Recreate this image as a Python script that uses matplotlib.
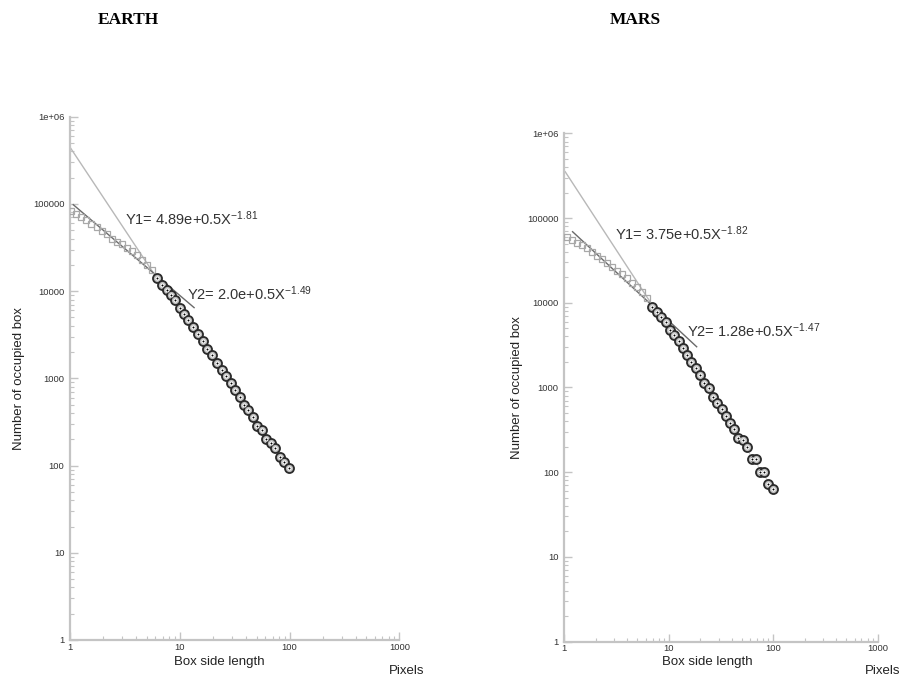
import numpy as np
import matplotlib
matplotlib.use('Agg')
import matplotlib.pyplot as plt
from matplotlib.ticker import LogLocator, FixedLocator, NullFormatter

plt.rcParams['font.family'] = ['Liberation Sans', 'DejaVu Sans']
plt.rcParams['mathtext.default'] = 'regular'

# ---- EARTH data ----
earth_sq_x = [1.02, 1.13, 1.26, 1.40, 1.55, 1.75, 1.94, 2.16, 2.40, 2.66, 2.96, 3.28,
              3.65, 4.05, 4.50, 5.00, 5.55]
earth_sq_y = [82000, 77200, 70600, 64700, 59300, 54200, 48800, 44700, 39900, 36500,
              34300, 31500, 28800, 25700, 22900, 19800, 17300]
earth_ci_x = [6.16, 6.84, 7.60, 8.32, 9.04, 10.0, 11.0, 11.9, 13.1, 14.6, 16.2, 17.8,
              19.5, 21.7, 24.1, 26.4, 29.1, 31.8, 35.3, 38.4, 41.5, 46.7, 50.1, 55.7,
              61.0, 67.3, 73.6, 81.8, 89.5, 99.3]
earth_ci_y = [14130, 11860, 10400, 9120, 7850, 6470, 5530, 4630, 3880, 3260, 2680, 2190,
              1840, 1480, 1260, 1060, 886, 744, 612, 501, 431, 356, 283, 259,
              199, 179, 157, 126, 110, 93]
earth_fit1_x = [1.0, 5.94]
earth_fit1_y = [447000, 15200]
earth_fit2_x = [1.07, 13.5]
earth_fit2_y = [98000, 6470]
earth_eq1 = 'Y1= 4.89e+0.5X$^{-1.81}$'
earth_eq2 = 'Y2= 2.0e+0.5X$^{-1.49}$'

# ---- MARS data ----
mars_sq_x = [1.05, 1.18, 1.31, 1.47, 1.64, 1.83, 2.04, 2.28, 2.55, 2.84, 3.17, 3.54,
             3.95, 4.42, 4.93, 5.50, 6.15]
mars_sq_y = [60100, 55000, 51100, 48000, 43900, 40000, 35600, 32500, 29200, 26600,
             23900, 21600, 19400, 17200, 15500, 13500, 11300]
mars_ci_x = [6.86, 7.66, 8.42, 9.34, 10.3, 11.3, 12.5, 13.8, 15.0, 16.3, 18.1, 19.9,
             21.9, 24.3, 26.5, 28.7, 32.1, 35.3, 38.5, 42.4, 46.2, 50.9, 56.4, 62.1,
             68.3, 74.6, 81.5, 89.6, 98.7]
mars_ci_y = [8970, 7830, 6840, 5970, 4760, 4160, 3560, 2900, 2420, 2010, 1680, 1400,
             1130, 997, 766, 649, 551, 459, 377, 320, 255, 239, 196, 143,
             143, 99.5, 99.5, 72.4, 63.1]
mars_fit1_x = [1.02, 6.61]
mars_fit1_y = [352000, 10300]
mars_fit2_x = [1.20, 18.5]
mars_fit2_y = [68900, 3020]
mars_eq1 = 'Y1= 3.75e+0.5X$^{-1.82}$'
mars_eq2 = 'Y2= 1.28e+0.5X$^{-1.47}$'

y_ticks = [1, 10, 100, 1000, 10000, 100000, 1000000]
y_tick_labels = ['1', '10', '100', '1000', '10000', '100000', '1e+06']
x_ticks = [1, 10, 100, 1000]
x_tick_labels = ['1', '10', '100', '1000']

AXIS_GREY = '#c4c4c4'


def draw_panel(ax, sq_x, sq_y, ci_x, ci_y, f1x, f1y, f2x, f2y, eq1, eq2, eq1_pos, eq2_pos):
    ax.set_xscale('log')
    ax.set_yscale('log')
    ax.set_xlim(1, 1000)
    ax.set_ylim(1, 1e6)

    ax.plot(f1x, f1y, color='#b8b8b8', lw=1.0, zorder=2)
    ax.plot(f2x, f2y, color='#6a6a6a', lw=1.0, zorder=2)
    ax.plot(sq_x, sq_y, ls='none', marker='s', ms=4.2, mfc='none', mec='#a8a8a8',
            mew=0.9, zorder=3)
    ax.plot(ci_x, ci_y, color='#d0d0d0', lw=0.7, zorder=3)
    ax.plot(ci_x, ci_y, ls='none', marker='o', ms=6.5, mfc='#bdbdbd', mec='#2a2a2a',
            mew=1.3, zorder=4)
    ax.plot(ci_x, ci_y, ls='none', marker='o', ms=3.0, mfc='white', mec='white',
            mew=0, zorder=5)
    ax.plot(ci_x, ci_y, ls='none', marker='o', ms=1.4, mfc='black', mec='black',
            mew=0, zorder=6)

    ax.text(eq1_pos[0], eq1_pos[1], eq1, fontsize=10.5, color='#333333')
    ax.text(eq2_pos[0], eq2_pos[1], eq2, fontsize=10.5, color='#333333')

    for s in ['top', 'right']:
        ax.spines[s].set_visible(False)
    for s in ['left', 'bottom']:
        ax.spines[s].set_color(AXIS_GREY)
        ax.spines[s].set_linewidth(1.6)

    ax.yaxis.set_major_locator(FixedLocator(y_ticks))
    ax.set_yticklabels(y_tick_labels)
    ax.xaxis.set_major_locator(FixedLocator(x_ticks))
    ax.set_xticklabels(x_tick_labels)
    ax.yaxis.set_minor_locator(LogLocator(base=10, subs=np.arange(2, 10), numticks=20))
    ax.xaxis.set_minor_locator(LogLocator(base=10, subs=np.arange(2, 10), numticks=20))
    ax.yaxis.set_minor_formatter(NullFormatter())
    ax.xaxis.set_minor_formatter(NullFormatter())
    ax.tick_params(which='major', direction='in', length=6, width=1.0, color=AXIS_GREY,
                   labelsize=6.8, labelcolor='#333333')
    ax.tick_params(which='minor', direction='in', length=3, width=0.8, color=AXIS_GREY)
    ax.tick_params(axis='y', which='major', pad=4)
    ax.tick_params(axis='x', which='major', pad=2)


fig = plt.figure(figsize=(9, 6.77), dpi=100)

ax1 = fig.add_axes([0.0778, 0.0547, 0.3659, 0.7729])
draw_panel(ax1, earth_sq_x, earth_sq_y, earth_ci_x, earth_ci_y,
           earth_fit1_x, earth_fit1_y, earth_fit2_x, earth_fit2_y,
           earth_eq1, earth_eq2, (3.17, 56700), (11.56, 7850))

ax2 = fig.add_axes([0.627, 0.0524, 0.3482, 0.7507])
draw_panel(ax2, mars_sq_x, mars_sq_y, mars_ci_x, mars_ci_y,
           mars_fit1_x, mars_fit1_y, mars_fit2_x, mars_fit2_y,
           mars_eq1, mars_eq2, (3.06, 55000), (14.8, 3970))

# titles
fig.text(128 / 900, 1 - 20 / 677, 'EARTH', family=['Liberation Serif', 'DejaVu Serif'],
         fontweight='bold', fontsize=12.5, ha='center', va='center')
fig.text(635 / 900, 1 - 20 / 677, 'MARS', family=['Liberation Serif', 'DejaVu Serif'],
         fontweight='bold', fontsize=12.5, ha='center', va='center')

# axis labels
for cx, px in [(219, 407), (707, 883)]:
    fig.text(cx / 900, 1 - 662 / 677, 'Box side length', fontsize=9.5, color='#222222',
             ha='center', va='center')
    fig.text(px / 900, 1 - 671 / 677, 'Pixels', fontsize=9.5, color='#222222',
             ha='center', va='center')
fig.text(19 / 900, 1 - 379 / 677, 'Number of occupied box', fontsize=9.5, color='#222222',
         rotation=90, ha='center', va='center')
fig.text(517 / 900, 1 - 388 / 677, 'Number of occupied box', fontsize=9.5, color='#222222',
         rotation=90, ha='center', va='center')

plt.savefig('out.png', dpi=100)
